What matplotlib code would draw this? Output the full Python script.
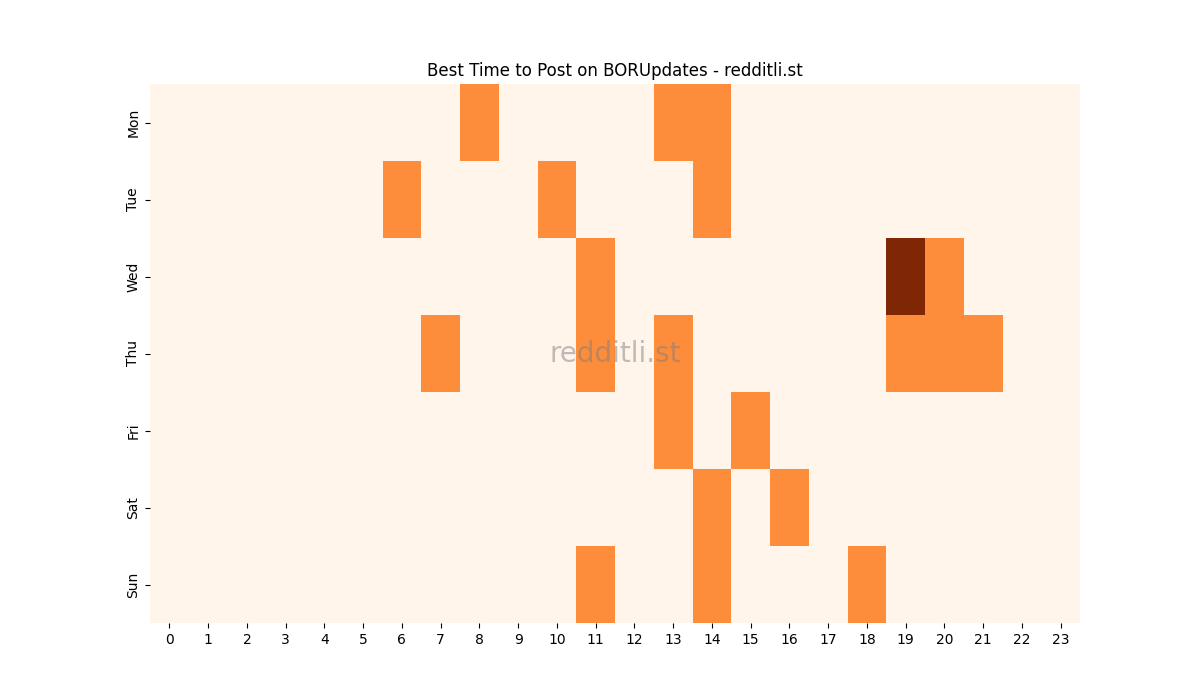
import numpy as np
import pandas as pd
import matplotlib
matplotlib.use("Agg")
import matplotlib.pyplot as plt
import seaborn as sns

days = ["Mon", "Tue", "Wed", "Thu", "Fri", "Sat", "Sun"]
hours = list(range(24))

# hour -> post count, per day (everything else is 0)
mon = {8: 1, 13: 1, 14: 1}
tue = {6: 1, 10: 1, 14: 1}
wed = {11: 1, 19: 2, 20: 1}
thu = {7: 1, 11: 1, 13: 1, 19: 1, 20: 1, 21: 1}
fri = {13: 1, 15: 1}
sat = {14: 1, 16: 1}
sun = {11: 1, 14: 1, 18: 1}

rows = [mon, tue, wed, thu, fri, sat, sun]
grid = pd.DataFrame([[r.get(h, 0) for h in hours] for r in rows], index=days, columns=hours)

fig, ax = plt.subplots(figsize=(12, 7), dpi=100)
sns.heatmap(grid, cmap="Oranges", cbar=False, ax=ax)
ax.set_title("Best Time to Post on BORUpdates - redditli.st")
ax.text(0.5, 0.5, "redditli.st", transform=ax.transAxes, ha="center", va="center",
        fontsize=20, color="gray", alpha=0.5)
plt.savefig("out.png")
